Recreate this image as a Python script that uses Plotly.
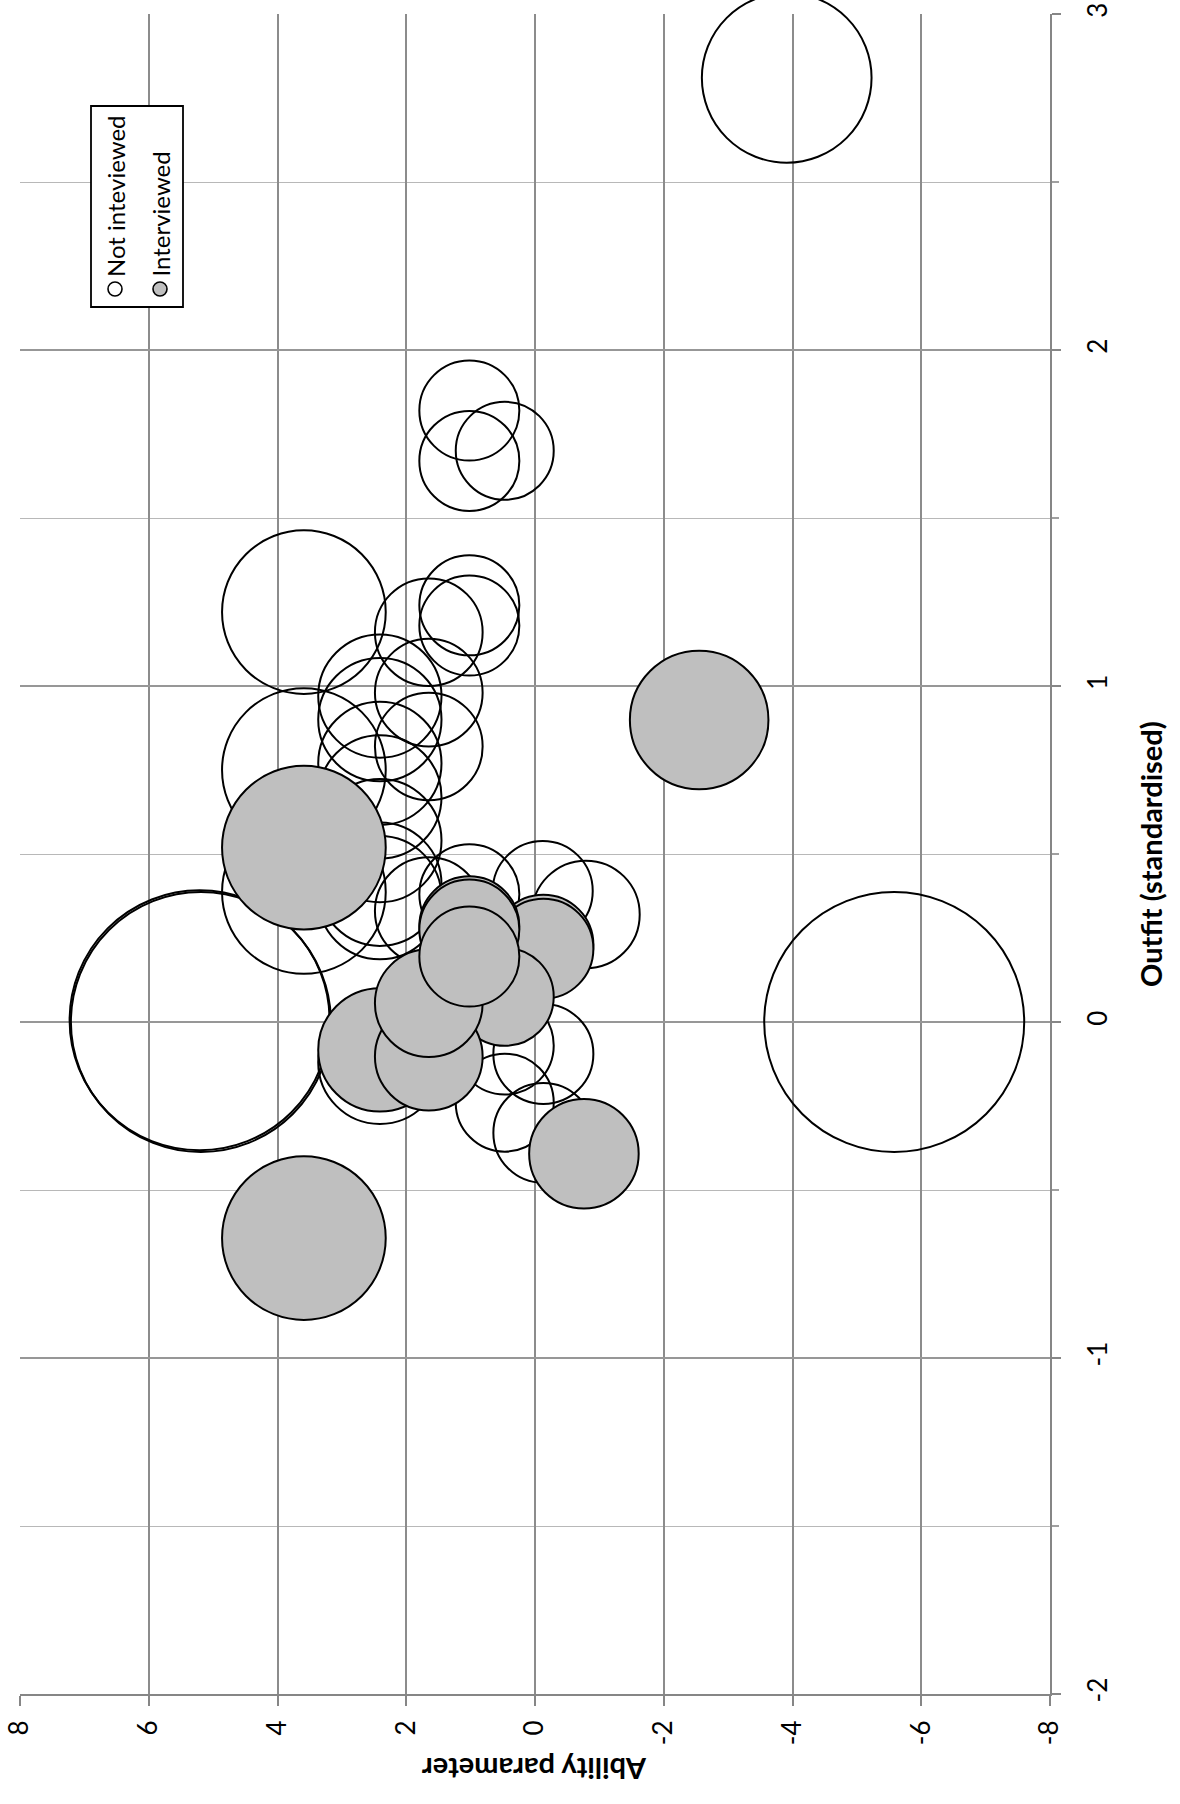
import plotly.graph_objects as go

# ---- data -------------------------------------------------------------
# Not interviewed: ability, outfit (standardised), bubble size
ni_ability = [-3.91, 5.19, 5.21, -5.58, 3.59, 3.59, 3.59,
              1.02, 1.02, 0.47, 1.02, 1.02, 1.65,
              2.41, 1.65, 2.41, 1.65, 2.41, 2.41, 2.41, 2.41, 2.41,
              1.65, 1.02, -0.12, -0.79, 2.41, 0.47, -0.13, 0.47, -0.13]
ni_outfit = [2.81, 0.0, 0.005, 0.0, 1.22, 0.75, 0.387,
             1.82, 1.67, 1.70, 1.24, 1.18, 1.16,
             0.97, 0.98, 0.90, 0.82, 0.77, 0.67, 0.54, 0.41, 0.37,
             0.33, 0.38, 0.39, 0.32, -0.12, -0.07, -0.095, -0.24, -0.33]
ni_size = [72, 169, 169, 169, 67, 67, 67,
           25, 25, 24, 25, 25, 29,
           38, 29, 38, 29, 38, 38, 38, 38, 38,
           29, 25, 25, 29, 38, 24, 25, 24, 25]

# Interviewed
iv_ability = [3.59, 3.59, -2.55, -0.76,
              -0.13, -0.13, 0.47, 2.41, 1.65, 1.65, 1.02, 1.02, 1.02]
iv_outfit = [0.519, -0.643, 0.899, -0.392,
             0.23, 0.218, 0.075, -0.083, -0.103, 0.056, 0.285, 0.275, 0.195]
iv_size = [67, 67, 48, 30,
           25, 25, 24, 38, 29, 29, 25, 25, 25]

ability_ticks = [8, 6, 4, 2, 0, -2, -4, -6, -8]
ability_labels = ["8", "6", "4", "2", "0", "-2", "-4", "-6", "-8"]
outfit_ticks = [-2, -1, 0, 1, 2, 3]
outfit_labels = ["-2", "-1", "0", "1", "2", "3"]

series_names = ["Not inteviewed", "Interviewed"]

# ---- figure geometry --------------------------------------------------
W, H = 1180, 1804
ML, MR, MT, MB = 20, 130, 14, 110
PW, PH = W - ML - MR, H - MT - MB

FONT = "Lato"
GREY_FILL = "#bfbfbf"
SIZEREF = 0.005


def px_x(x):
    return (x - ML) / PW


def px_y(y):
    return (H - MB - y) / PH


fig = go.Figure()

fig.add_trace(go.Scatter(
    x=ni_ability, y=ni_outfit, mode="markers", name=series_names[0],
    cliponaxis=False,
    marker=dict(size=ni_size, sizemode="area", sizeref=SIZEREF,
                color="rgba(255,255,255,0)", opacity=1,
                line=dict(color="black", width=2)),
))
fig.add_trace(go.Scatter(
    x=iv_ability, y=iv_outfit, mode="markers", name=series_names[1],
    cliponaxis=False,
    marker=dict(size=iv_size, sizemode="area", sizeref=SIZEREF,
                color=GREY_FILL, opacity=1,
                line=dict(color="black", width=2)),
))

tickfont = dict(family=FONT, size=26, color="black")

fig.update_layout(
    width=W, height=H,
    margin=dict(l=ML, r=MR, t=MT, b=MB, autoexpand=False),
    paper_bgcolor="white", plot_bgcolor="white",
    showlegend=False,
    xaxis=dict(
        range=[8, -8], tickvals=ability_ticks, ticktext=ability_labels,
        tickangle=-90, tickfont=tickfont, ticks="outside", ticklen=10,
        tickcolor="#868686", tickwidth=1.5, automargin=False,
        showline=True, linecolor="#868686", linewidth=2,
        showgrid=True, gridcolor="#8c8c8c", gridwidth=1.5,
        zeroline=False, ticklabelstandoff=4,
    ),
    yaxis=dict(
        range=[-2, 3], side="right", tickvals=outfit_ticks,
        ticktext=outfit_labels, tickangle=-90, tickfont=tickfont,
        ticks="outside", ticklen=9, tickcolor="#868686", tickwidth=1.5,
        automargin=False,
        showline=True, linecolor="#868686", linewidth=2,
        showgrid=True, gridcolor="#979797", gridwidth=1.5,
        zeroline=False, ticklabelstandoff=15,
        minor=dict(dtick=0.5, ticks="outside", ticklen=7,
                   tickcolor="#a0a0a0", showgrid=True,
                   gridcolor="#b8b8b8", gridwidth=1.3),
    ),
)

# axis titles, turned with the chart
fig.add_annotation(text="<b>Ability parameter</b>", textangle=180,
                   xref="paper", yref="paper", x=0.5, y=px_y(1770),
                   xanchor="center", yanchor="middle", showarrow=False,
                   font=dict(family=FONT, size=29, color="black"))
fig.add_annotation(text="<b>Outfit (standardised)</b>", textangle=-90,
                   xref="paper", yref="paper", x=px_x(1150), y=0.5,
                   xanchor="center", yanchor="middle", showarrow=False,
                   font=dict(family=FONT, size=29, color="black"))

# legend box with upright-rotated entries
fig.add_shape(type="rect", xref="paper", yref="paper",
              x0=px_x(91), x1=px_x(183), y0=px_y(307), y1=px_y(106),
              line=dict(color="black", width=1.8), fillcolor="white",
              layer="above")
legend_cols = [(115, "white"), (160, GREY_FILL)]
for (cx, fill), label in zip(legend_cols, series_names):
    fig.add_shape(type="circle", xref="paper", yref="paper",
                  x0=px_x(cx - 7), x1=px_x(cx + 7),
                  y0=px_y(289 + 7), y1=px_y(289 - 7),
                  line=dict(color="black", width=1.6), fillcolor=fill,
                  layer="above")
    fig.add_annotation(text=label, textangle=-90,
                       xref="paper", yref="paper", x=px_x(cx),
                       y=px_y(279), xanchor="center", yanchor="bottom",
                       showarrow=False,
                       font=dict(family=FONT, size=24, color="black"))

fig.write_html("out.html")
